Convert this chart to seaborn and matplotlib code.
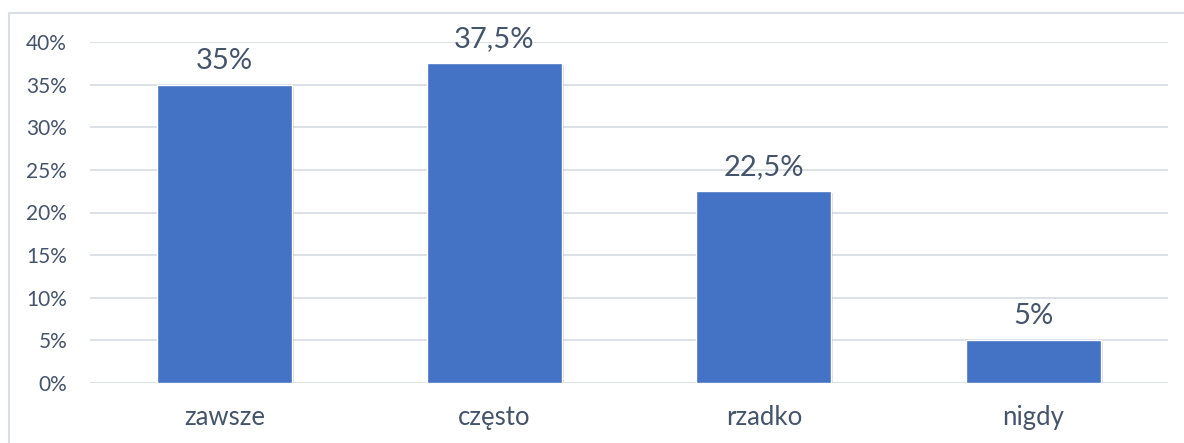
import matplotlib
matplotlib.use("Agg")
import matplotlib.pyplot as plt
import matplotlib.patheffects as pe
from matplotlib.patches import Rectangle
from matplotlib.ticker import FuncFormatter, MultipleLocator
import seaborn as sns
import pandas as pd

categories = ["zawsze", "często", "rzadko", "nigdy"]
values = [35, 37.5, 22.5, 5]

BAR = "#4472C4"
TEXT = "#44546A"
GRID = "#D9DEE5"

sns.set_theme(style="white")
plt.rcParams["font.family"] = ["Lato", "DejaVu Sans"]

df = pd.DataFrame({"kategoria": categories, "procent": values})

fig = plt.figure(figsize=(11.84, 4.43), dpi=100)
ax = fig.add_axes([90 / 1184, 60 / 443, 1078 / 1184, 341 / 443])

sns.barplot(data=df, x="kategoria", y="procent", color=BAR, width=0.5,
            saturation=1, ax=ax, zorder=3)

for bar in ax.patches:
    bar.set_path_effects([pe.SimplePatchShadow(offset=(1.5, -1.5), shadow_rgbFace="#8a8a8a", alpha=0.3),
                          pe.Normal()])

def fmt(v):
    s = f"{v:g}".replace(".", ",")
    return s + "%"

for i, v in enumerate(values):
    ax.annotate(fmt(v), (i, v), xytext=(0, 8), textcoords="offset points",
                ha="center", va="bottom", fontsize=21, color=TEXT)

ax.set_xlim(-0.5, 3.5)
ax.set_ylim(0, 40)
ax.yaxis.set_major_locator(MultipleLocator(5))
ax.yaxis.set_major_formatter(FuncFormatter(lambda y, _: f"{y:.0f}%"))
ax.grid(axis="y", color=GRID, linewidth=1.3, zorder=0)
ax.set_axisbelow(True)
for s in ax.spines.values():
    s.set_visible(False)
ax.set_xlabel("")
ax.set_ylabel("")
ax.tick_params(axis="y", length=0, pad=16.5, labelsize=15, labelcolor=TEXT)
ax.tick_params(axis="x", length=0, pad=16, labelsize=18.5, labelcolor=TEXT)

# chart area frame
fig.patches.append(Rectangle((9 / 1184, -0.1), 1.2, (443 - 13) / 443 + 0.1,
                             transform=fig.transFigure, fill=False,
                             edgecolor="#D9DEE5", linewidth=1.5))

fig.savefig("out.png", dpi=100)
